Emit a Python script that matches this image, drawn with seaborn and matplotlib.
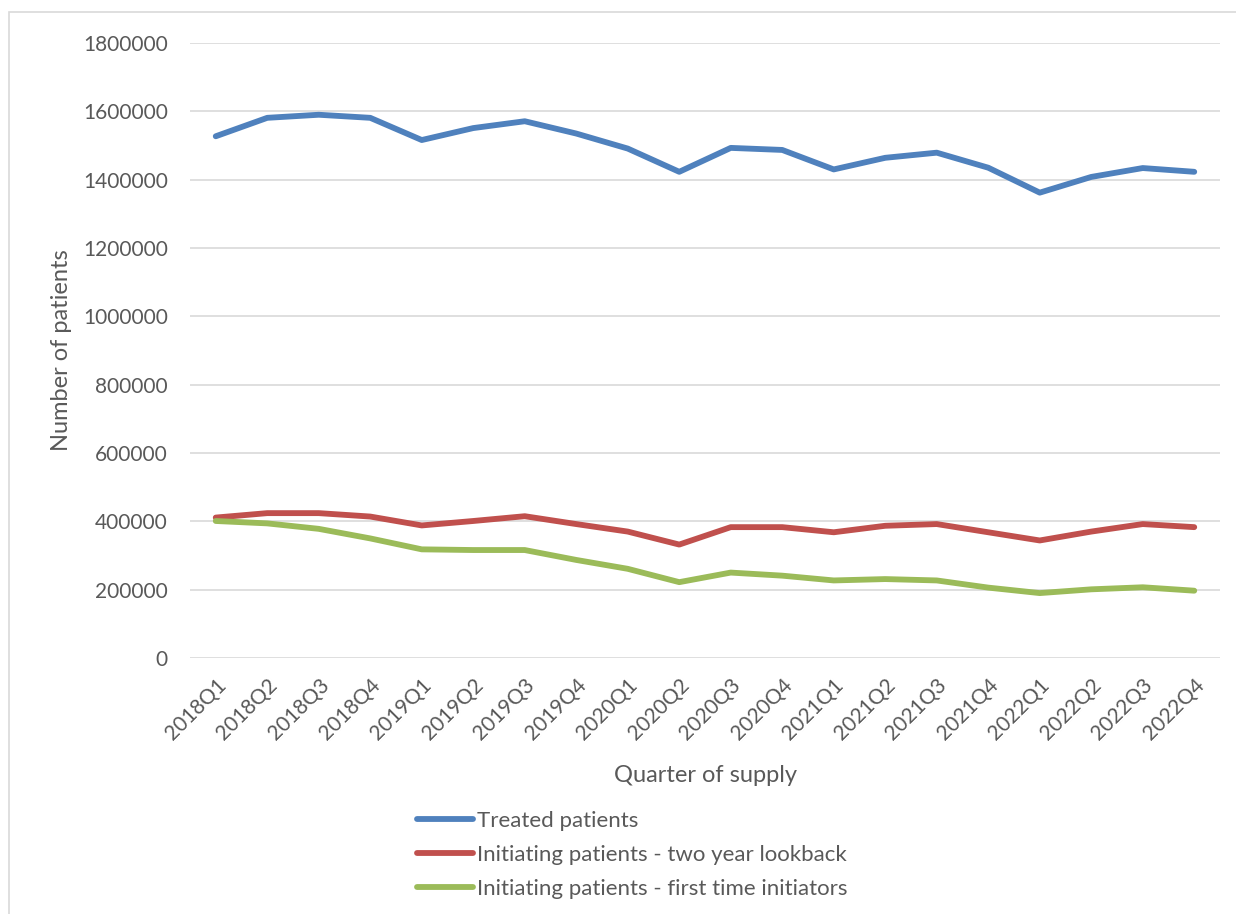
import pandas as pd
import numpy as np
import matplotlib.pyplot as plt
import seaborn as sns
from matplotlib.patches import Rectangle

# quarters of supply
quarters = ['2018Q1', '2018Q2', '2018Q3', '2018Q4',
            '2019Q1', '2019Q2', '2019Q3', '2019Q4',
            '2020Q1', '2020Q2', '2020Q3', '2020Q4',
            '2021Q1', '2021Q2', '2021Q3', '2021Q4',
            '2022Q1', '2022Q2', '2022Q3', '2022Q4']

# values
treated = [1527000, 1581000, 1590000, 1581000,
           1516000, 1551000, 1571000, 1535000,
           1491000, 1423000, 1493000, 1487000,
           1430000, 1464000, 1479000, 1435000,
           1362000, 1408000, 1434000, 1423000]
two_year = [411000, 424000, 424000, 414000,
            388000, 401000, 415000, 392000,
            370000, 332000, 383000, 383000,
            368000, 387000, 392000, 368000,
            344000, 370000, 392000, 383000]
first_time = [401000, 394000, 378000, 350000,
              318000, 316000, 316000, 287000,
              261000, 222000, 250000, 241000,
              227000, 231000, 227000, 206000,
              190000, 201000, 207000, 197000]

series_names = ['Treated patients',
                'Initiating patients - two year lookback',
                'Initiating patients - first time initiators']
colors = ['#4F81BD', '#C0504D', '#9BBB59']

# long format for seaborn
df = pd.DataFrame({
    'quarter': quarters * 3,
    'pos': list(range(len(quarters))) * 3,
    'patients': treated + two_year + first_time,
    'series': np.repeat(series_names, len(quarters)),
})

sns.set_theme(style='white')
plt.rcParams['font.family'] = ['Lato', 'DejaVu Sans']
txt = '#595959'

fig = plt.figure(figsize=(12.36, 9.14), dpi=100)
ax = fig.add_axes([190 / 1236, 1 - 658 / 914, 1030 / 1236, 615 / 914])

sns.lineplot(data=df, x='pos', y='patients', hue='series', palette=colors,
             linewidth=4.2, ax=ax, legend=False, solid_capstyle='round',
             solid_joinstyle='round')

ax.set_xlim(-0.5, len(quarters) - 0.5)
ax.set_ylim(0, 1800000)
ax.set_yticks(range(0, 1800001, 200000))
ax.set_yticklabels([str(v) for v in range(0, 1800001, 200000)])
ax.set_xticks(range(len(quarters)))
ax.set_xticklabels(quarters, rotation=45, ha='right', rotation_mode='anchor')

ax.grid(axis='y', color='#D9D9D9', linewidth=1.2)
ax.grid(axis='x', visible=False)
ax.set_axisbelow(True)
for s in ax.spines.values():
    s.set_visible(False)

ax.tick_params(axis='y', length=0, pad=16, labelsize=15, labelcolor=txt)
ax.tick_params(axis='x', length=0, pad=12, labelsize=15, labelcolor=txt)

ax.set_xlabel('Quarter of supply', fontsize=17, color=txt)
ax.set_ylabel('Number of patients', fontsize=17, color=txt)
ax.xaxis.label.set_va('center')
ax.yaxis.label.set_va('center')
ax.xaxis.set_label_coords(0.5, (658 - 775) / 615)
ax.yaxis.set_label_coords((62 - 190) / 1030, 0.5)

handles = [plt.Line2D([], [], color=c, linewidth=4.2, solid_capstyle='round')
           for c in colors]
leg = fig.legend(handles, series_names, loc='upper left',
                 bbox_to_anchor=(417 / 1236, 1 - 811 / 914), frameon=False,
                 fontsize=16, handlelength=2.5, handletextpad=0.22,
                 labelspacing=0.62, borderpad=0, borderaxespad=0)
for t in leg.get_texts():
    t.set_color(txt)

# chart area border (Excel style)
fig.patches.append(Rectangle((9 / 1236, -0.1), 1.2, 1 - 12 / 914 + 0.1,
                             transform=fig.transFigure, fill=False,
                             edgecolor='#D9D9D9', linewidth=1.2))

plt.savefig('out.png', dpi=100)
plt.close()
